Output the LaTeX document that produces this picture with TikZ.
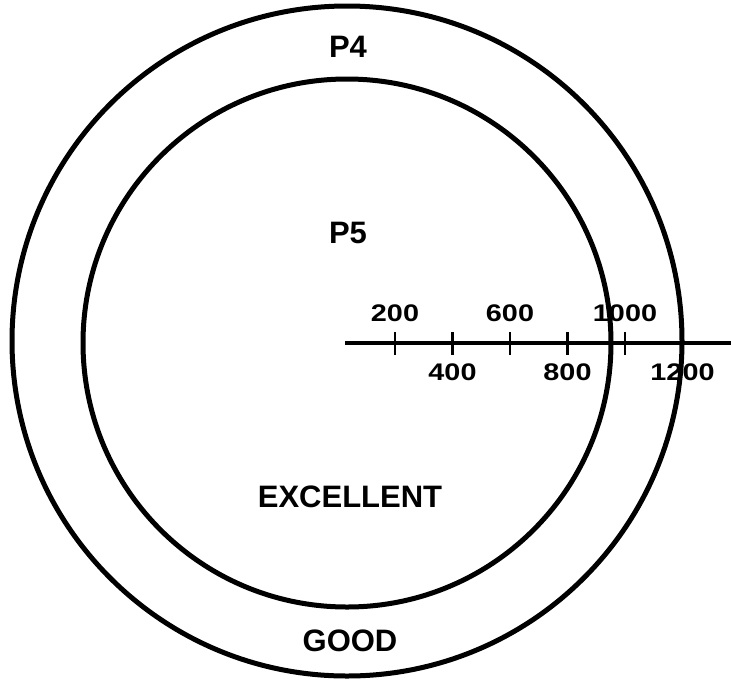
\documentclass[tikz,border=0pt]{standalone}
\usepackage{fontspec}
\setmainfont{Liberation Sans}
\newfontfamily\numfont{Liberation Sans}[FakeStretch=1.2]
\usepackage{tikz}
\usetikzlibrary{positioning}
\newcommand{\ringOut}{(347,341) circle (335pt)}
\newcommand{\ringIn}{(347,343) circle (264pt)}

\begin{document}
\begin{tikzpicture}[x=1pt,y=-1pt,
  ringlabel/.style={font=\bfseries\fontsize{31}{31}\selectfont,inner sep=0pt},
  scalelabel/.style={font=\numfont\bfseries\fontsize{24}{24}\selectfont,inner sep=0pt}]
\useasboundingbox (0,0) rectangle (731,681);
\draw[line width=5pt] \ringOut;
\draw[line width=5pt] \ringIn;
% scale
\coordinate (axstart) at (345,343);
\coordinate (axend) at (731,343);
\draw[line width=3.5pt] (axstart) -- (axend);
\foreach \v/\side in {200/above,400/below,600/above,800/below,1000/above,1200/below}{
  \coordinate (t\v) at ({337.5+0.2875*\v},343);
  \draw[line width=2.5pt] ([yshift=11pt]t\v) -- ([yshift=-12pt]t\v);
  \node[scalelabel,\side=21pt of t\v] (n\v) {\v};
}
\node[ringlabel] (p4) at (348,47) {P4};
\node[ringlabel] (p5) at (348,233) {P5};
\node[ringlabel] (excellent) at (350,497) {EXCELLENT};
\node[ringlabel] (good) at (350,641) {GOOD};
\end{tikzpicture}
\end{document}
